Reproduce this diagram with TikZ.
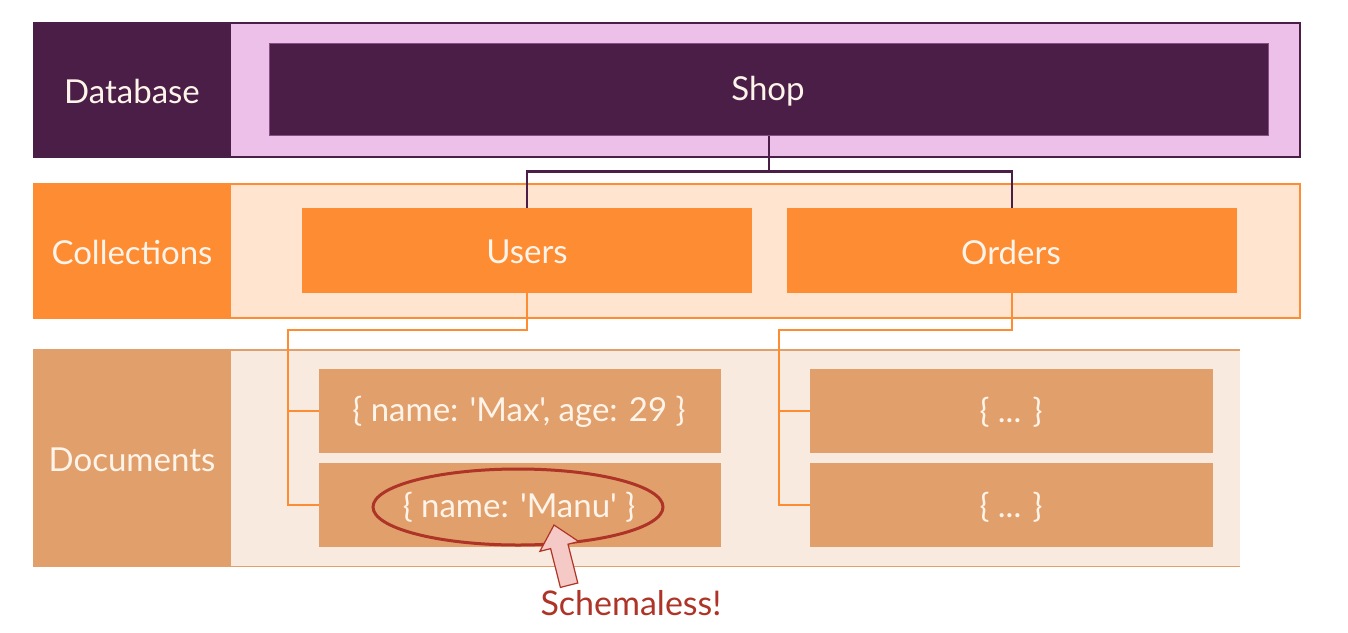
\documentclass[tikz,border=0pt]{standalone}
\usepackage{fontspec}
\setmainfont{Lato}[Ligatures=TeXOff]
\usetikzlibrary{shapes.geometric}
\definecolor{dbpurple}{HTML}{4A1E47}
\definecolor{dbpink}{HTML}{ECC0E8}
\definecolor{shopedge}{HTML}{8A4E87}
\definecolor{colorange}{HTML}{FE8C33}
\definecolor{collight}{HTML}{FFE4D0}
\definecolor{doctan}{HTML}{E1A06B}
\definecolor{doclight}{HTML}{F9EADF}
\definecolor{textcream}{HTML}{FFF4EA}
\definecolor{schemared}{HTML}{AE3427}
\definecolor{arrowpink}{HTML}{F5C9C6}
\begin{document}
\begin{tikzpicture}[x=1pt,y=-1pt,
  box/.style={rectangle,inner sep=0pt,anchor=north west},
  lbl/.style={text=textcream,font=\fontsize{33}{38}\selectfont},
  purpleline/.style={draw=dbpurple,line width=2.5pt},
  orangeline/.style={draw=colorange,line width=2.5pt}]
\useasboundingbox (0,0) rectangle (1348,632);
% Database row
\node[box,fill=dbpink,draw=dbpurple,line width=1.5pt,minimum width=1266pt,minimum height=134pt] (dbrow) at (33,22) {};
\node[box,fill=dbpurple,minimum width=198pt,minimum height=134pt] (dblab) at (33,22) {};
\node[lbl] (dbtext) at (132,91) {Database};
\node[box,fill=dbpurple,draw=shopedge,line width=0.6pt,minimum width=999pt,minimum height=92pt] (shop) at (269,43) {};
\node[lbl] (shoptext) at (768,91) {Shop};
% Collections row
\node[box,fill=collight,draw=colorange,line width=1.5pt,minimum width=1266pt,minimum height=134pt] (colrow) at (33,183) {};
\node[box,fill=colorange,minimum width=198pt,minimum height=134pt] (collab) at (33,183) {};
\node[lbl] (coltext) at (132,252) {Collections};
\node[box,fill=colorange,minimum width=450pt,minimum height=85pt] (users) at (302,208) {};
\node[lbl] (userstext) at (527,252) {Users};
\node[box,fill=colorange,minimum width=450pt,minimum height=85pt] (orders) at (787,208) {};
\node[lbl] (orderstext) at (1011,252) {Orders};
% Documents row
\node[box,fill=doclight,minimum width=1207pt,minimum height=216pt] (docrow) at (33,350) {};
\draw[doctan,line width=1.5pt] (docrow.north west) -- (docrow.north east);
\draw[doctan,line width=1.5pt] (docrow.south west) -- (docrow.south east);
\node[box,fill=doctan,minimum width=198pt,minimum height=216pt] (doclab) at (33,350) {};
\node[lbl] (doctext) at (132,460) {Documents};
\node[box,fill=doctan,minimum width=402pt,minimum height=84pt] (d1) at (319,369) {};
\node[lbl] (d1text) at (519,412) {\{ name: 'Max', age: 29 \}};
\node[box,fill=doctan,minimum width=402pt,minimum height=84pt] (d2) at (319,463) {};
\node[lbl] (d2text) at (519,507) {\{ name: 'Manu' \}};
\node[box,fill=doctan,minimum width=403pt,minimum height=84pt] (d3) at (810,369) {};
\node[lbl] (d3text) at (1011,412) {\{ ... \}};
\node[box,fill=doctan,minimum width=403pt,minimum height=84pt] (d4) at (810,463) {};
\node[lbl] (d4text) at (1011,507) {\{ ... \}};
% connectors
\path (shop.south) ++(0,36) coordinate (pj);
\draw[purpleline] (shop.south) -- (pj) -| (users.north);
\draw[purpleline] (pj) -| (orders.north);
\coordinate (lj) at (288,330);
\coordinate (rj) at (779,330);
\draw[orangeline] (users.south) |- (lj) |- (d1.west);
\draw[orangeline] (lj) |- (d2.west);
\draw[orangeline] (orders.south) |- (rj) |- (d3.west);
\draw[orangeline] (rj) |- (d4.west);
% highlight
\node[ellipse,draw=schemared,line width=3pt,minimum width=290pt,minimum height=76pt,inner sep=0pt] (oval) at (518,507) {};
\draw[schemared,line width=1.2pt,fill=arrowpink,line join=miter]
  (554,525) -- (578.7,541.5) -- (568.0,544.2) -- (577.8,583.0) -- (560.4,587.4) -- (550.6,548.6) -- (539.9,551.3) -- cycle;
\node[text=schemared,font=\fontsize{34}{40}\selectfont] (schemaless) at (631,603) {Schemaless!};
\end{tikzpicture}
\end{document}
